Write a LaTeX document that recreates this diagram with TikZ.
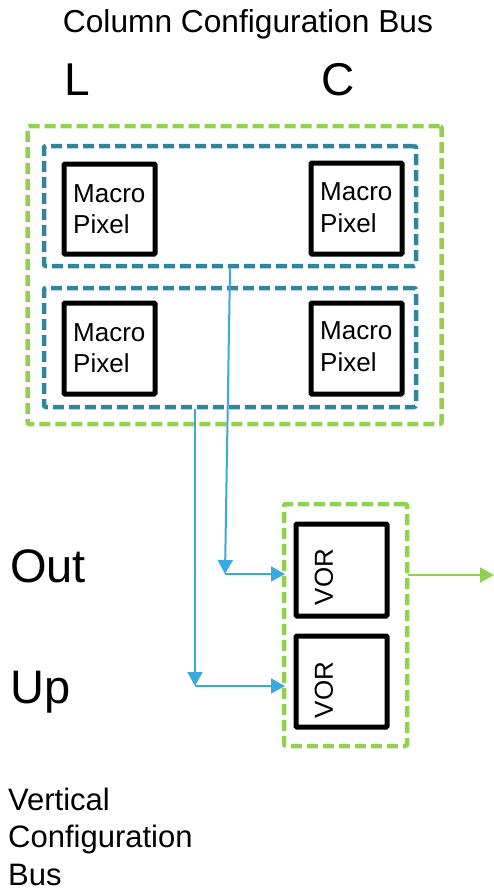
\documentclass[tikz,border=0pt]{standalone}
\usepackage{fontspec}
\setmainfont{Liberation Sans}
\usetikzlibrary{arrows.meta}
\definecolor{grn}{RGB}{146,208,80}
\definecolor{dblue}{RGB}{49,133,156}
\definecolor{lblue}{RGB}{58,169,221}
\begin{document}
\begin{tikzpicture}[x=1pt,y=-1pt,
  greenbox/.style={draw=grn,line width=4.5pt,dash pattern=on 11pt off 5pt,rounded corners=2pt,inner sep=0pt},
  bluebox/.style={draw=dblue,line width=4.5pt,dash pattern=on 11pt off 5pt,rounded corners=2pt,inner sep=0pt},
  blkbox/.style={draw=black,line width=5pt,rounded corners=1pt,inner sep=0pt},
  txt/.style={inner sep=0pt,anchor=base west},
  mptext/.style={txt,font=\fontsize{26}{31}\selectfont,align=left},
  vortext/.style={inner sep=0pt,rotate=90,font=\fontsize{26}{31}\selectfont},
  busarrow/.style={draw=lblue,line width=2pt,-{Triangle[width=15pt,length=14pt]}},
  outarrow/.style={draw=grn,line width=2pt,-{Triangle[width=15pt,length=14pt]}}
]
\useasboundingbox (0,0) rectangle (494,891);

% titles
\node[inner sep=0pt,anchor=base] (title) at (248,33) {\fontsize{31.7}{38}\selectfont Column Configuration Bus};
\node[txt,font=\fontsize{46}{55}\selectfont] (L) at (64,95) {L};
\node[txt,font=\fontsize{46}{55}\selectfont] (C) at (321,95) {C};

% pixel array
\node[greenbox,minimum width=414pt,minimum height=298pt] (array) at (234.5,275) {};
\node[bluebox,minimum width=372pt,minimum height=120pt] (row1) at (230,206) {};
\node[bluebox,minimum width=372pt,minimum height=119pt] (row2) at (230,347.5) {};

\node[blkbox,minimum width=91pt,minimum height=90pt] (mp1) at (109.5,209) {};
\node[blkbox,minimum width=91pt,minimum height=91pt] (mp2) at (356.5,208.5) {};
\node[blkbox,minimum width=91pt,minimum height=91pt] (mp3) at (109.5,348.5) {};
\node[blkbox,minimum width=91pt,minimum height=91pt] (mp4) at (356.5,348.5) {};

\node[mptext] (t1) at (73,202) {Macro};
\node[mptext] (t1b) at (73,233) {Pixel};
\node[mptext] (t2) at (320,200) {Macro};
\node[mptext] (t2b) at (320,232) {Pixel};
\node[mptext] (t3) at (73,341) {Macro};
\node[mptext] (t3b) at (73,372) {Pixel};
\node[mptext] (t4) at (320,339) {Macro};
\node[mptext] (t4b) at (320,371) {Pixel};

% VOR block
\node[greenbox,minimum width=123pt,minimum height=242pt] (vorgrp) at (345.5,625) {};
\node[blkbox,minimum width=91pt,minimum height=92pt] (vor1) at (341.5,570) {};
\node[blkbox,minimum width=91pt,minimum height=91pt] (vor2) at (341.5,681.5) {};
\node[vortext] (vt1) at (324,577) {VOR};
\node[vortext] (vt2) at (324,690) {VOR};

% side labels
\node[txt,font=\fontsize{47}{56}\selectfont] (out) at (10,582) {Out};
\node[txt,font=\fontsize{47}{56}\selectfont] (up) at (10,703) {Up};
\node[txt,font=\fontsize{31}{37.5}\selectfont,align=left] (vcb) at (8,885) {Vertical\\Configuration\\Bus};

% connectors
\coordinate (c1) at (225,574);
\coordinate (c2) at (195,686);
\coordinate (e1) at (285,574);
\coordinate (e2) at (285,686);
\coordinate (o1) at (408,575);
\coordinate (o2) at (494,575);
\draw[busarrow] (row1.south) -- (c1);
\draw[busarrow] (c1) -- (e1);
\draw[busarrow] (row2.south -| c2) -- (c2);
\draw[busarrow] (c2) -- (e2);
\draw[outarrow] (o1) -- (o2);
\end{tikzpicture}
\end{document}
